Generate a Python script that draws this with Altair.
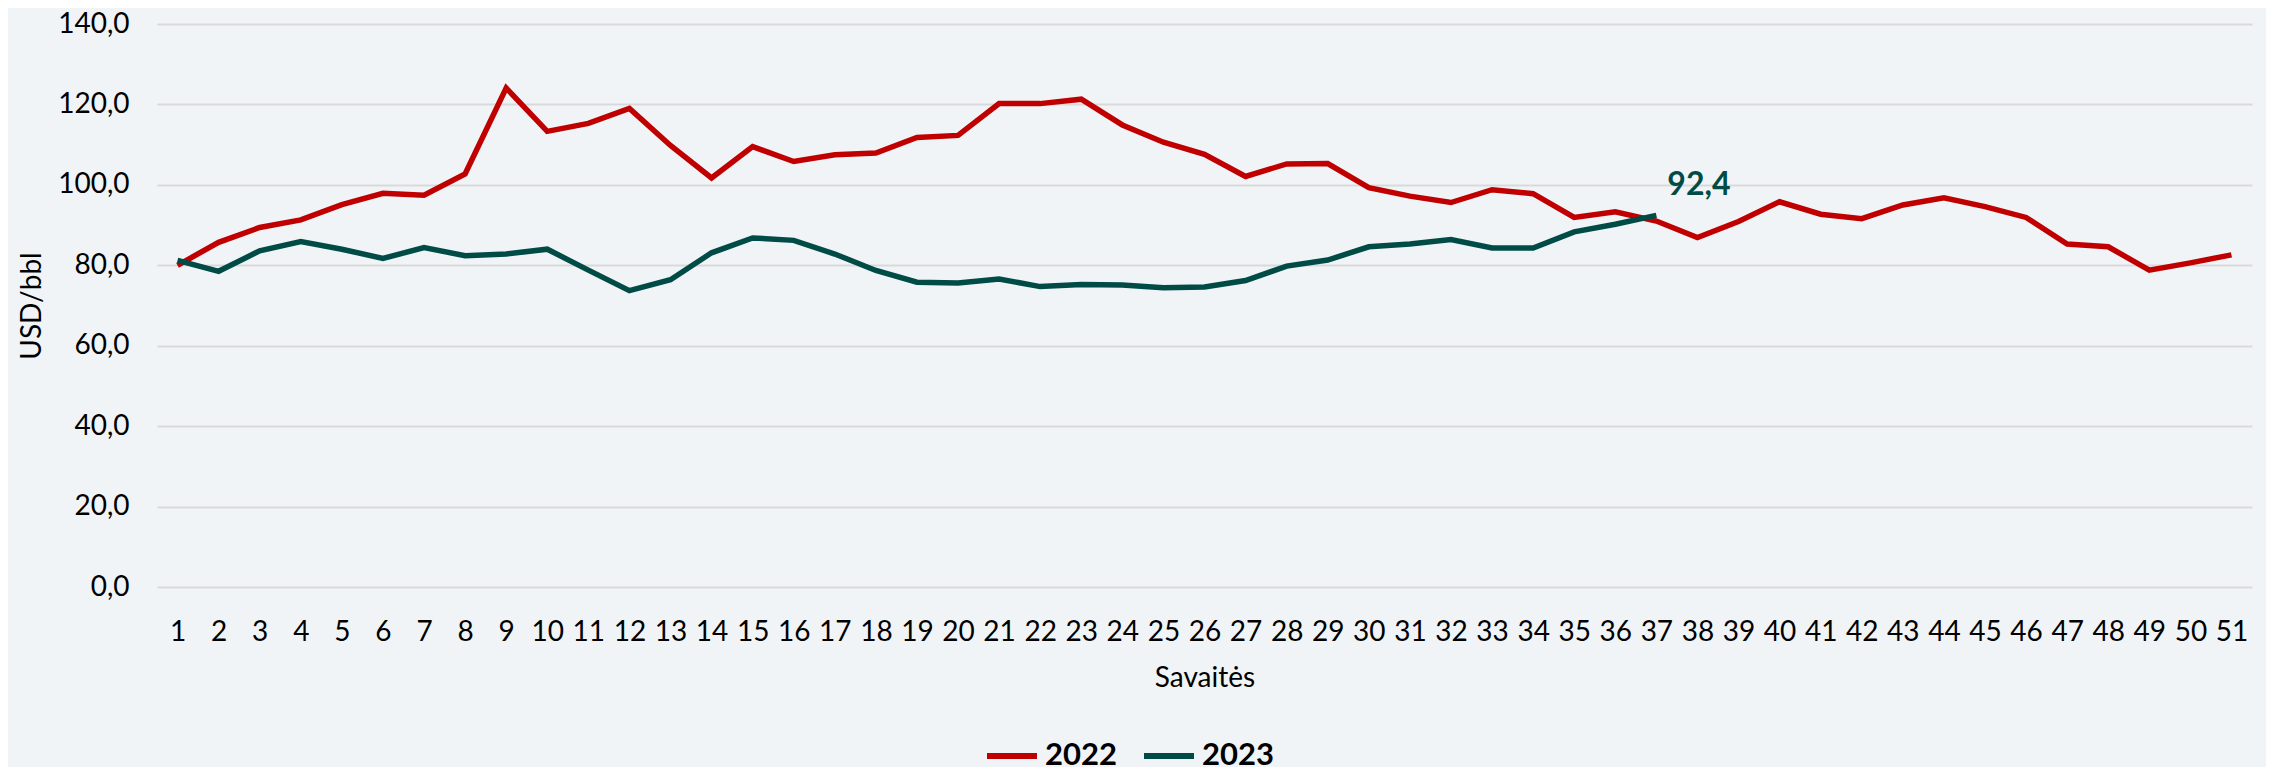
import altair as alt
import pandas as pd

weeks = list(range(1, 52))
values_2022 = [80.0, 85.7, 89.4, 91.3, 95.1, 97.9, 97.4, 102.7, 124.1, 113.3,
               115.3, 119.0, 109.8, 101.7, 109.5, 105.8, 107.5, 107.9, 111.8, 112.3,
               120.2, 120.2, 121.3, 114.9, 110.6, 107.6, 102.1, 105.2, 105.3, 99.3,
               97.2, 95.6, 98.8, 97.8, 91.9, 93.3, 91.0, 86.9, 90.9, 95.8,
               92.7, 91.6, 95.0, 96.8, 94.6, 91.9, 85.3, 84.6, 78.8, 80.6, 82.6]
values_2023 = [81.2, 78.5, 83.6, 85.9, 84.0, 81.7, 84.4, 82.4, 82.8, 84.0,
               78.8, 73.7, 76.4, 83.1, 86.8, 86.2, 82.8, 78.7, 75.8, 75.6,
               76.6, 74.7, 75.2, 75.1, 74.4, 74.6, 76.2, 79.8, 81.3, 84.6,
               85.3, 86.4, 84.3, 84.3, 88.3, 90.2, 92.4]
series = ["2022", "2023"]
colors = ["#C00000", "#004B46"]
label_week = 37
label_value = 92.4
label_text = "92,4"

rows = []
for w, v in zip(weeks, values_2022):
    rows.append({"week": w, "value": v, "year": "2022"})
for w, v in zip(weeks, values_2023):
    rows.append({"week": w, "value": v, "year": "2023"})
df = pd.DataFrame(rows)
ann = pd.DataFrame([{"week": label_week, "value": label_value, "text": label_text}])

FONT = "Lato"

x_enc = alt.X("week:O", title="Savaitės",
              scale=alt.Scale(type="point", padding=0.5),
              axis=alt.Axis(labelAngle=0, labelFontSize=28, labelFont=FONT, labelColor="#000000",
                            titleFontSize=28, titleFont=FONT, titleFontWeight="normal",
                            titleColor="#000000", ticks=False, domain=False, grid=False,
                            labelPadding=31, titlePadding=18))
y_enc = alt.Y("value:Q", title="USD/bbl",
              scale=alt.Scale(domain=[0, 140], nice=False),
              axis=alt.Axis(values=[0, 20, 40, 60, 80, 100, 120, 140],
                            labelExpr="replace(format(datum.value, '.1f'), '.', ',')",
                            labelFontSize=28, labelFont=FONT, labelColor="#000000",
                            titleFontSize=28, titleFont=FONT, titleFontWeight="normal",
                            titleColor="#000000", ticks=False, domain=False,
                            grid=True, gridColor="#D9D9D9", gridWidth=2,
                            labelPadding=28, titleX=-125, titleAngle=-90,
                            titleBaseline="middle"))

lines = alt.Chart(df).mark_line(strokeWidth=5.5, strokeJoin="miter").encode(
    x=x_enc,
    y=y_enc,
    color=alt.Color("year:N", scale=alt.Scale(domain=series, range=colors),
                    legend=alt.Legend(title=None, orient="none", direction="horizontal",
                                      legendX=827, legendY=704, symbolType="stroke",
                                      symbolSize=2500, symbolStrokeWidth=6,
                                      labelFontSize=31, labelFont=FONT, labelFontWeight="bold",
                                      labelColor="#000000", labelOffset=5,
                                      columnPadding=15, padding=0)),
)

text = alt.Chart(ann).mark_text(align="left", baseline="middle", dx=11, dy=-30,
                                fontSize=32, font=FONT, fontWeight="bold",
                                color=colors[1]).encode(
    x=alt.X("week:O"),
    y=alt.Y("value:Q"),
    text="text:N",
)

chart = alt.layer(lines, text).properties(
    width=2095, height=563,
    background="#F0F4F7",
    padding={"left": 149, "top": 16, "right": 14, "bottom": 180},
    autosize=alt.AutoSizeParams(type="none"),
).configure_view(stroke=None)

chart.save("out.html", embed_options={"renderer": "svg", "actions": False})
